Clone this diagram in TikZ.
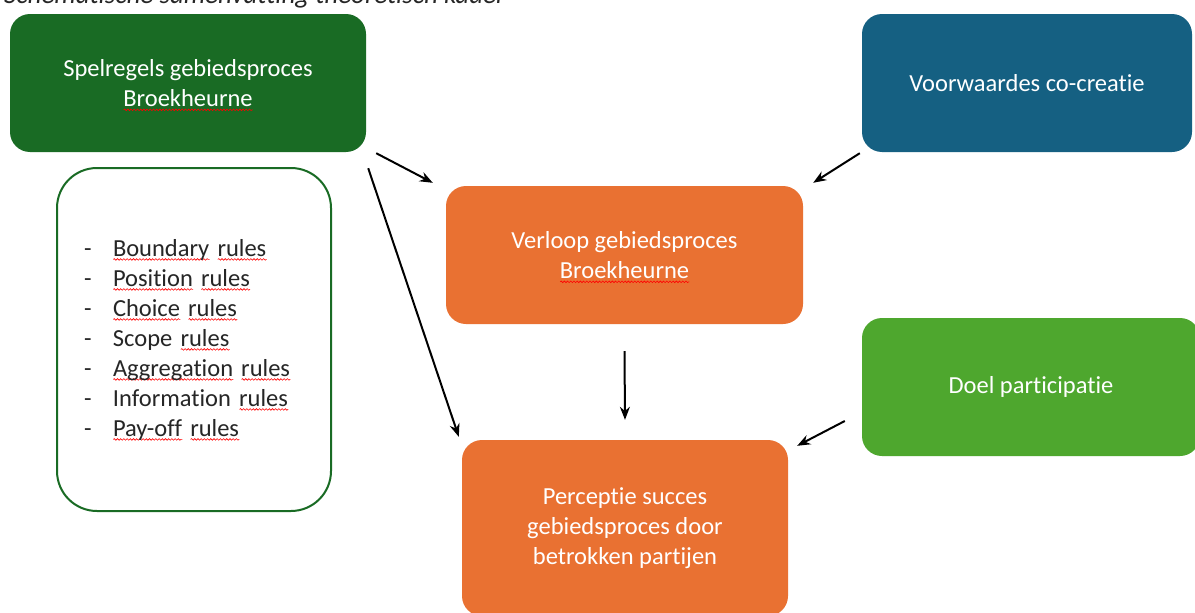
\documentclass[tikz,border=0pt]{standalone}
\usepackage{fontspec}
\setmainfont{Carlito}[Ligatures=NoCommon]
\usetikzlibrary{arrows.meta,calc,decorations.pathmorphing}
\definecolor{dgreen}{HTML}{196B24}
\definecolor{oblue}{HTML}{156082}
\definecolor{oorange}{HTML}{E97132}
\definecolor{lgreen}{HTML}{4EA72E}
\definecolor{txtgray}{HTML}{262626}
\newsavebox\wavebox
\newcommand\redwave[1]{\sbox\wavebox{#1}\leavevmode\makebox[0pt][l]{\raisebox{-4.5pt}[0pt][0pt]{\tikz[x=1pt,y=1pt,sharp corners]\draw[red,line width=0.6pt,sharp corners,decorate,decoration={snake,amplitude=0.8pt,segment length=3.2pt}] (0,0) -- (\the\wd\wavebox,0);}}\usebox\wavebox}
\newcommand\dashitem[1]{\makebox[29pt][l]{-}#1}
\begin{document}
\begin{tikzpicture}[x=1pt,y=-1pt,
  box/.style={rectangle, rounded corners=20pt, text=white, align=center,
    font=\fontsize{24.5}{30}\selectfont, inner sep=0pt},
  listbox/.style={rectangle, rounded corners=40pt, draw=dgreen, line width=2pt, fill=white,
    text=txtgray, align=left, font=\fontsize{24.5}{30}\selectfont, inner xsep=27pt, inner ysep=0pt},
  arr/.style={-{Stealth[length=13pt,width=10pt]}, line width=2pt, black}]
\clip (0,0) rectangle (1195,613);
\fill[white] (0,0) rectangle (1195,613);
\node[anchor=base west, inner sep=0pt, text=txtgray, font=\itshape\fontsize{27}{30}\selectfont] (title) at (4,4) {Schematische samenvatting theoretisch kader};
\node[box, fill=dgreen, minimum width=356pt, minimum height=138pt] (spel) at (188,83) {Spelregels gebiedsproces\\\redwave{Broekheurne}};
\node[box, fill=oblue, minimum width=330pt, minimum height=138pt] (voor) at (1027,83) {Voorwaardes co-creatie};
\node[listbox, minimum width=274pt, minimum height=343pt, text width=220pt] (list) at (194,339.5) {%
\dashitem{\redwave{Boundary} \redwave{rules}}\\
\dashitem{\redwave{Position} \redwave{rules}}\\
\dashitem{\redwave{Choice} \redwave{rules}}\\
\dashitem{Scope \redwave{rules}}\\
\dashitem{\redwave{Aggregation} \redwave{rules}}\\
\dashitem{Information \redwave{rules}}\\
\dashitem{\redwave{Pay-off} \redwave{rules}}};
\node[box, fill=oorange, minimum width=357pt, minimum height=138pt] (verl) at (624.5,255) {Verloop gebiedsproces\\\redwave{Broekheurne}};
\node[box, fill=lgreen, minimum width=338pt, minimum height=138pt] (doel) at (1031,387) {Doel participatie};
\node[box, fill=oorange, minimum width=326pt, minimum height=176pt] (perc) at (625,528) {Perceptie succes\\gebiedsproces door\\betrokken partijen};
\draw[arr] ($(spel.south east)+(10,1)$) -- ($(verl.north west)+(-13,-3)$);
\draw[arr] ($(spel.south east)+(2,16)$) -- ($(perc.north west)+(-3,-3)$);
\draw[arr] ($(voor.south west)+(-2,1)$) -- ($(verl.north east)+(10,-3)$);
\draw[arr] ($(verl.south)+(0,27)$) -- ($(perc.north)+(0,-20)$);
\draw[arr] ($(doel.west)+(-17,34)$) -- ($(perc.north east)+(9,6)$);
\end{tikzpicture}
\end{document}
